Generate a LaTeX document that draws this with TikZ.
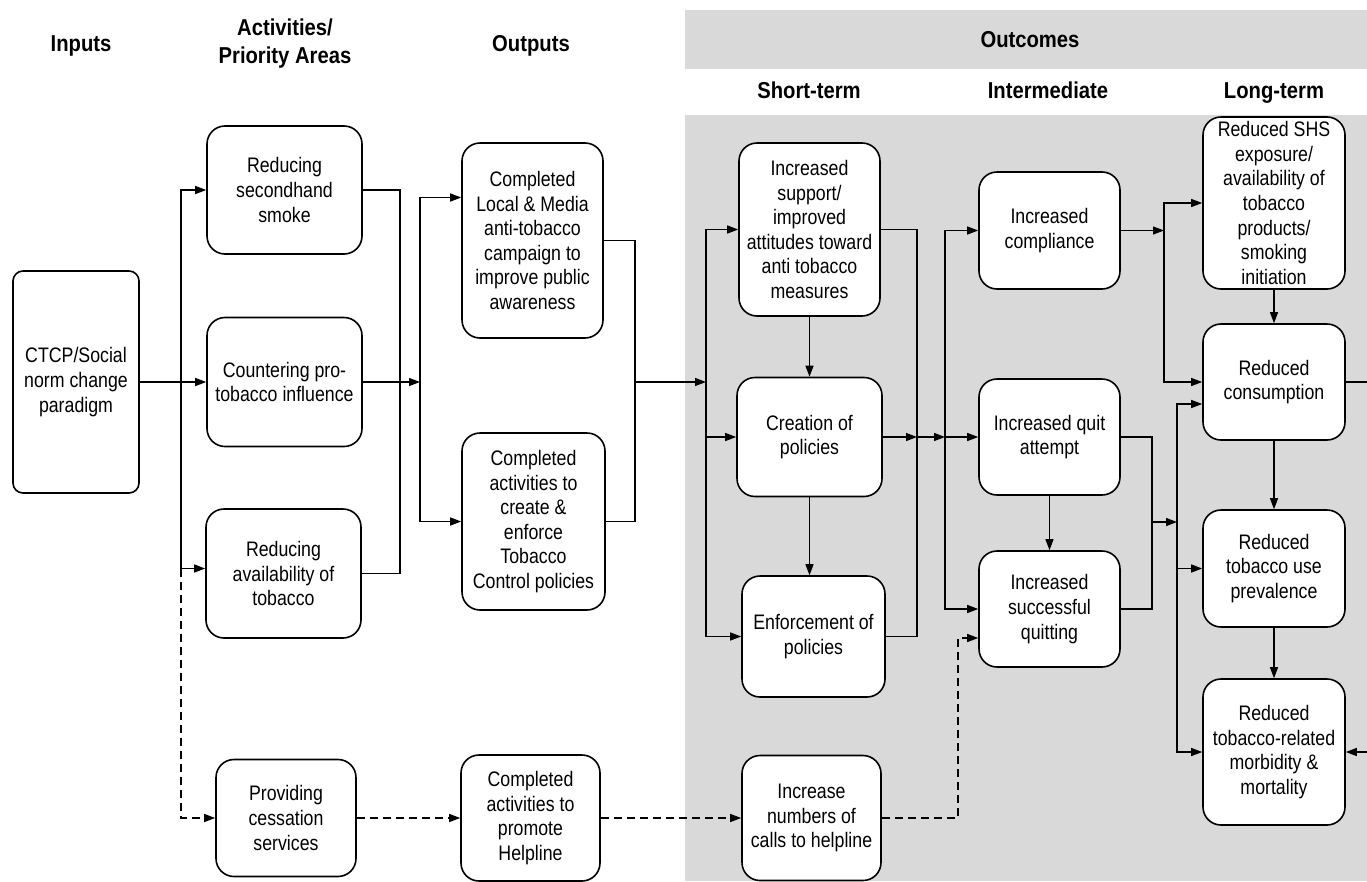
\documentclass[tikz,border=0pt]{standalone}
\usepackage{fontspec}
\setmainfont{Liberation Sans}[FakeStretch=0.845]
\newfontfamily\hdfont{Liberation Sans}[FakeStretch=0.88]
\usetikzlibrary{arrows.meta,calc}
\definecolor{outgray}{HTML}{D9D9D9}
\tikzset{
  box/.style={draw=black, line width=1.6pt, rounded corners=18pt, fill=white, align=center,
    inner sep=0pt, font=\fontsize{21}{24.6}\selectfont},
  hd/.style={inner sep=0pt, align=center, font=\hdfont\bfseries\fontsize{23}{28}\selectfont},
  ln/.style={line width=1.3pt},
  arr/.style={line width=1.3pt, -{Triangle[length=11pt,width=8pt]}},
  dsh/.style={dash pattern=on 8pt off 5pt}
}
\begin{document}
\begin{tikzpicture}[x=1pt,y=-1pt]
\useasboundingbox (0,0) rectangle (1367,881);
% shaded outcome areas
\fill[outgray] (685,10) rectangle (1367,69);
\fill[outgray] (685,115) rectangle (1367,881);
% headers
\node[hd, anchor=base] (hin) at (81,51) {Inputs};
\node[hd] (hact) at (285,44) {Activities/\\Priority Areas};
\node[hd, anchor=base] (hout) at (531,51) {Outputs};
\node[hd, anchor=base] (hoc) at (1030,47) {Outcomes};
\node[hd, anchor=base] (hst) at (809,98) {Short-term};
\node[hd, anchor=base] (him) at (1048,98) {Intermediate};
\node[hd, anchor=base] (hlt) at (1274,98) {Long-term};
% nodes
\node[box, rounded corners=10pt, minimum width=126pt, minimum height=222pt] (ctcp) at (76,382) {CTCP/Social\\norm change\\paradigm};
\node[box, minimum width=155pt, minimum height=128pt] (shs) at (284.5,190) {Reducing\\secondhand\\smoke};
\node[box, minimum width=155pt, minimum height=129pt] (count) at (284.5,382) {Countering pro-\\tobacco influence};
\node[box, minimum width=155pt, minimum height=129pt] (avail) at (283.5,573.5) {Reducing\\availability of\\tobacco};
\node[box, minimum width=140pt, minimum height=117pt] (prov) at (286,818) {Providing\\cessation\\services};
\node[box, minimum width=141pt, minimum height=195pt] (out1) at (532.5,240.5) {Completed\\Local \& Media\\anti-tobacco\\campaign to\\improve public\\awareness};
\node[box, minimum width=143pt, minimum height=177pt] (out2) at (533.5,521.5) {Completed\\activities to\\create \&\\enforce\\Tobacco\\Control policies};
\node[box, minimum width=139pt, minimum height=126pt] (hel) at (530.5,818) {Completed\\activities to\\promote\\Helpline};
\node[box, minimum width=141pt, minimum height=173pt] (sup) at (809.5,229.5) {Increased\\support/\\improved\\attitudes toward\\anti tobacco\\measures};
\node[box, minimum width=145pt, minimum height=119pt] (cre) at (809.5,437) {Creation of\\policies};
\node[box, minimum width=143pt, minimum height=121pt] (enf) at (813.5,636.5) {Enforcement of\\policies};
\node[box, minimum width=139pt, minimum height=125pt] (calls) at (811.5,818) {Increase\\numbers of\\calls to helpline};
\node[box, minimum width=141pt, minimum height=117pt] (comp) at (1049.5,230.5) {Increased\\compliance};
\node[box, minimum width=141pt, minimum height=116pt] (quit) at (1049.5,437) {Increased quit\\attempt};
\node[box, minimum width=141pt, minimum height=116pt] (succ) at (1049.5,609) {Increased\\successful\\quitting};
\node[box, minimum width=142pt, minimum height=172pt] (shs2) at (1274,203) {Reduced SHS\\exposure/\\availability of\\tobacco\\products/\\smoking\\initiation};
\node[box, minimum width=142pt, minimum height=116pt] (cons) at (1274,382) {Reduced\\consumption};
\node[box, minimum width=142pt, minimum height=117pt] (prev) at (1274,568.5) {Reduced\\tobacco use\\prevalence};
\node[box, minimum width=142pt, minimum height=146pt] (morb) at (1274,752) {Reduced\\tobacco-related\\morbidity \&\\mortality};
% junction coordinates
\coordinate (b1) at (181,382);
\coordinate (a568) at ([yshift=5pt]avail.west);
\coordinate (a2) at (400,382);
\coordinate (o1) at (420,382);
\coordinate (o1a) at ([yshift=43pt]out1.west);
\coordinate (o2) at (635,382);
\coordinate (s1) at (706,382);
\coordinate (s2) at (917,437);
\coordinate (i1) at (945,437);
\coordinate (d1) at (958,638);
\coordinate (L1) at (1164,230.5);
\coordinate (L2) at (1152,522);
\coordinate (L3) at (1177,522);
\coordinate (c404) at ([yshift=-22pt]cons.west);
\coordinate (r1) at (1370,382);
% inputs -> activities
\draw[arr] (ctcp.east) -- (count.west);
\draw[arr] (b1) |- (shs.west);
\draw[arr] (b1) |- (a568);
\draw[arr,dsh] (a568 -| b1) |- (prov.west);
% activities -> outputs
\draw[ln] (shs.east) -| (a2) |- (avail.east);
\draw[arr] (count.east) -- (o1);
\draw[arr] (o1) |- (o1a);
\draw[arr] (o1) |- (out2.west);
\draw[arr,dsh] (prov.east) -- (hel.west);
% outputs -> short-term
\draw[ln] (out1.east) -| (o2) |- (out2.east);
\draw[arr] (o2) -- (s1);
\draw[arr] (s1) |- (sup.west);
\draw[arr] (s1) |- (cre.west);
\draw[arr] (s1) |- (enf.west);
\draw[arr,dsh] (hel.east) -- (calls.west);
\draw[arr] (sup.south) -- (sup.south |- cre.north);
\draw[arr] (cre.south) -- (cre.south |- enf.north);
% short-term -> intermediate
\draw[ln] (sup.east) -| (s2) |- (enf.east);
\draw[arr] (cre.east) -- (s2);
\draw[arr] (s2) -- (i1);
\draw[arr] (i1) |- (comp.west);
\draw[arr] (i1) -- (quit.west);
\draw[arr] (i1) |- (succ.west);
\draw[arr] (quit.south) -- (succ.north);
\draw[arr,dsh] (calls.east) -| (d1) -- (d1 -| succ.west);
% intermediate -> long-term
\draw[arr] (comp.east) -- (L1);
\draw[arr] (L1) |- (shs2.west);
\draw[arr] (L1) |- (cons.west);
\draw[ln] (quit.east) -| (L2) |- (succ.east);
\draw[arr] (L2) -- (L3);
\draw[arr] (L3) |- (c404);
\draw[arr] (L3) |- (prev.west);
\draw[arr] (L3) |- (morb.west);
\draw[arr] (shs2.south) -- (cons.north);
\draw[arr] (cons.south) -- (prev.north);
\draw[arr] (prev.south) -- (morb.north);
\draw[arr] (cons.east) -- (r1) |- (morb.east);
\end{tikzpicture}
\end{document}
